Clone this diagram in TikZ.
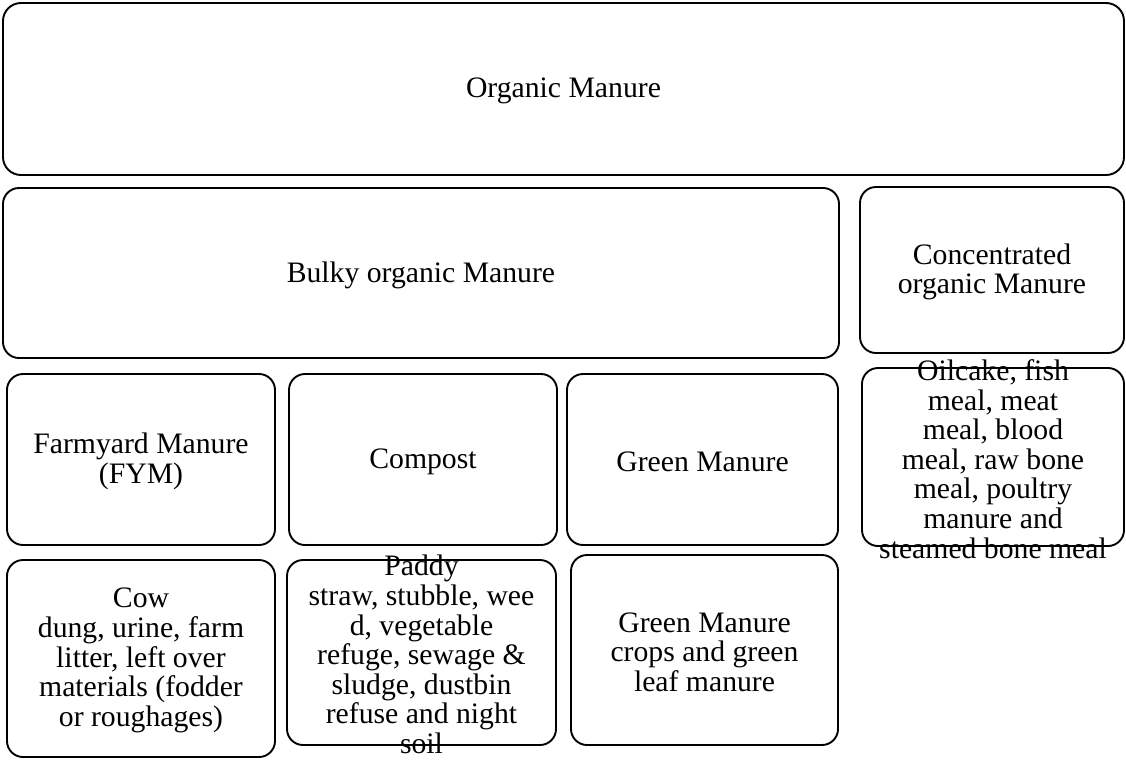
\documentclass[tikz,border=0pt]{standalone}
\usepackage{fontspec}
\setmainfont{Liberation Serif}
\begin{document}
\begin{tikzpicture}[x=1pt,y=-1pt,
  box/.style={draw=black,line width=1.9pt,rounded corners=16pt,rectangle,inner sep=0pt},
  txt/.style={align=center,inner sep=0pt,yshift=-2pt,font=\fontsize{29.7}{29.6}\selectfont}]
\useasboundingbox (0,0) rectangle (1126,761);
\fill[white] (0,0) rectangle (1126,761);
% boxes
\node[box,rounded corners=18pt,minimum width=1121pt,minimum height=172pt] (om) at (563.5,89) {};
\node[box,minimum width=836pt,minimum height=170pt] (bulky) at (421,273) {};
\node[box,minimum width=264pt,minimum height=166pt] (conc) at (992,270) {};
\node[box,minimum width=268pt,minimum height=171pt] (fym) at (141,459.5) {};
\node[box,minimum width=268pt,minimum height=171pt] (compost) at (423,459.5) {};
\node[box,minimum width=271pt,minimum height=171pt] (green) at (702.5,459.5) {};
\node[box,minimum width=262pt,minimum height=178pt] (oil) at (993,457) {};
\node[box,minimum width=268pt,minimum height=197pt] (cow) at (141,658.5) {};
\node[box,minimum width=269pt,minimum height=185pt] (paddy) at (421.5,652.5) {};
\node[box,minimum width=267pt,minimum height=190pt] (gmc) at (704.5,650) {};
% texts
\node[txt] (om-t) at (om.center) {Organic Manure};
\node[txt] (bulky-t) at (bulky.center) {Bulky organic Manure};
\node[txt] (conc-t) at (conc.center) {Concentrated\\organic Manure};
\node[txt] (fym-t) at (fym.center) {Farmyard Manure\\(FYM)};
\node[txt] (compost-t) at (compost.center) {Compost};
\node[txt] (green-t) at (green.center) {Green Manure};
\node[txt] (oil-t) at (oil.center) {Oilcake, fish\\meal, meat\\meal, blood\\meal, raw bone\\meal, poultry\\manure and\\steamed bone meal};
\node[txt] (cow-t) at (cow.center) {Cow\\dung, urine, farm\\litter, left over\\materials (fodder\\or roughages)};
\node[txt] (paddy-t) at (paddy.center) {Paddy\\straw, stubble, wee\\d, vegetable\\refuge, sewage \&\\sludge, dustbin\\refuse and night\\soil};
\node[txt] (gmc-t) at (gmc.center) {Green Manure\\crops and green\\leaf manure};
\end{tikzpicture}
\end{document}
